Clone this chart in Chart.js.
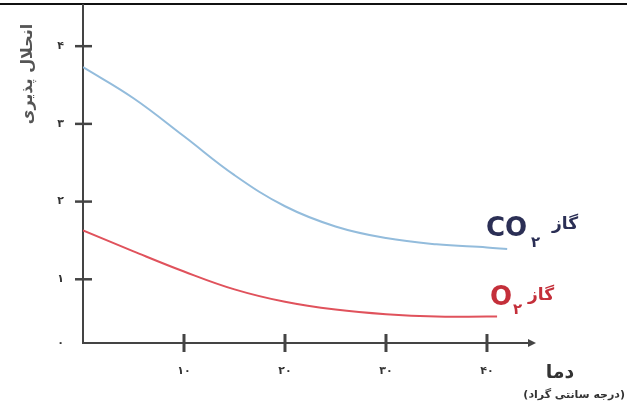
<!DOCTYPE html>
<html lang="fa">
<head>
<meta charset="utf-8">
<script src="https://cdn.jsdelivr.net/npm/chart.js@4"></script>
<style>
  html, body { margin: 0; padding: 0; background: #fff; }
  canvas { display: block; }
</style>
</head>
<body>
<canvas id="myChart" width="627" height="414"></canvas>
<script>
// values (temperature in °C, solubility)
const co2Temps = [0, 5, 10, 15, 20, 25, 30, 35, 40, 42];
const co2Solubility = [3.73, 3.33, 2.84, 2.34, 1.94, 1.68, 1.53, 1.45, 1.41, 1.39];
const o2Temps = [0, 5, 10, 15, 20, 25, 30, 35, 40, 41];
const o2Solubility = [1.63, 1.36, 1.10, 0.87, 0.71, 0.61, 0.55, 0.52, 0.52, 0.52];

const xTickValues = [10, 20, 30, 40];
const xTickLabels = ['۱۰', '۲۰', '۳۰', '۴۰'];
// the bottom axis sits a little above zero in the original drawing
const yTickValues = [0.18, 1, 2, 3, 4];
const yTickLabels = ['۰', '۱', '۲', '۳', '۴'];

const faFont = '"DejaVu Sans", sans-serif';
const axisColor = '#444';

function toPoints(xs, ys) {
  return xs.map((x, i) => ({ x: x, y: ys[i] }));
}

// cross ticks, arrow, labels and titles
const decorations = {
  id: 'decorations',
  beforeDraw(chart) {
    const ctx = chart.ctx;
    ctx.save();
    ctx.fillStyle = '#fff';
    ctx.fillRect(0, 0, chart.width, chart.height);
    ctx.fillStyle = '#111';
    ctx.fillRect(0, 3, chart.width, 2);
    ctx.restore();
  },
  afterDraw(chart) {
    const ctx = chart.ctx;
    const xs = chart.scales.x;
    const ys = chart.scales.y;
    const area = chart.chartArea;
    ctx.save();
    ctx.strokeStyle = axisColor;

    ctx.lineWidth = 3;
    xTickValues.forEach(v => {
      const px = xs.getPixelForValue(v);
      ctx.beginPath();
      ctx.moveTo(px, area.bottom - 9);
      ctx.lineTo(px, area.bottom + 9);
      ctx.stroke();
    });
    ctx.lineWidth = 2.5;
    yTickValues.slice(1).forEach(v => {
      const py = ys.getPixelForValue(v);
      ctx.beginPath();
      ctx.moveTo(area.left - 8, py);
      ctx.lineTo(area.left + 9, py);
      ctx.stroke();
    });

    // arrow head at end of x axis
    ctx.fillStyle = axisColor;
    ctx.beginPath();
    ctx.moveTo(area.right + 6, area.bottom);
    ctx.lineTo(area.right - 2, area.bottom - 4);
    ctx.lineTo(area.right - 2, area.bottom + 4);
    ctx.closePath();
    ctx.fill();

    // series labels
    ctx.textBaseline = 'alphabetic';
    ctx.textAlign = 'left';
    ctx.fillStyle = '#2b2f55';
    ctx.font = 'bold 26px ' + faFont;
    ctx.fillText('CO', 486, 236);
    ctx.font = 'bold 15px ' + faFont;
    ctx.fillText('۲', 531, 247);
    ctx.font = 'bold 17px ' + faFont;
    ctx.fillText('گاز', 552, 229);

    ctx.fillStyle = '#c42f3a';
    ctx.font = 'bold 26px ' + faFont;
    ctx.fillText('O', 490, 305);
    ctx.font = 'bold 15px ' + faFont;
    ctx.fillText('۲', 513, 314);
    ctx.font = 'bold 17px ' + faFont;
    ctx.fillText('گاز', 528, 300);

    // x axis title
    ctx.fillStyle = '#333';
    ctx.direction = 'rtl';
    ctx.textAlign = 'center';
    ctx.font = 'bold 19px ' + faFont;
    ctx.fillText('دما', 560, 378);
    ctx.textAlign = 'right';
    ctx.font = 'bold 11px ' + faFont;
    ctx.fillText('(درجه سانتی گراد)', 625, 398);

    // y axis title
    ctx.translate(28, 74);
    ctx.rotate(-Math.PI / 2);
    ctx.textAlign = 'center';
    ctx.textBaseline = 'middle';
    ctx.fillStyle = '#555';
    ctx.font = 'bold 16px ' + faFont;
    ctx.fillText('انحلال پذیری', 0, 0);
    ctx.restore();
  }
};

const chart = new Chart(document.getElementById('myChart'), {
  type: 'line',
  data: {
    datasets: [{
      label: 'CO2',
      data: toPoints(co2Temps, co2Solubility),
      borderColor: '#93bcdc',
      borderWidth: 2,
      pointRadius: 0,
      tension: 0.4,
      fill: false
    }, {
      label: 'O2',
      data: toPoints(o2Temps, o2Solubility),
      borderColor: '#e0525c',
      borderWidth: 2,
      pointRadius: 0,
      tension: 0.4,
      fill: false
    }]
  },
  options: {
    responsive: false,
    animation: false,
    layout: { padding: { top: 5, right: 97, left: 0, bottom: 0 } },
    plugins: {
      legend: { display: false },
      tooltip: { enabled: false }
    },
    scales: {
      x: {
        type: 'linear',
        min: 0,
        max: 44.26,
        afterBuildTicks: s => { s.ticks = xTickValues.map(v => ({ value: v })); },
        afterFit: s => { s.height = 71; s.paddingLeft = 0; s.paddingRight = 0; },
        grid: { display: true, drawOnChartArea: false, drawTicks: false },
        border: { display: true, color: axisColor, width: 2 },
        ticks: {
          padding: 22,
          color: '#333',
          font: { family: 'DejaVu Sans', size: 11, weight: 'bold' },
          maxRotation: 0,
          callback: (v, i) => xTickLabels[i]
        }
      },
      y: {
        type: 'linear',
        min: 0.18,
        max: 4.53,
        afterBuildTicks: s => { s.ticks = yTickValues.map(v => ({ value: v })); },
        afterFit: s => { s.width = 83; s.paddingTop = 0; s.paddingBottom = 0; },
        grid: { display: true, drawOnChartArea: false, drawTicks: false },
        border: { display: true, color: axisColor, width: 2 },
        ticks: {
          padding: 19,
          color: '#333',
          font: { family: 'DejaVu Sans', size: 11, weight: 'bold' },
          callback: (v, i) => yTickLabels[i]
        }
      }
    }
  },
  plugins: [decorations]
});
</script>
</body>
</html>
